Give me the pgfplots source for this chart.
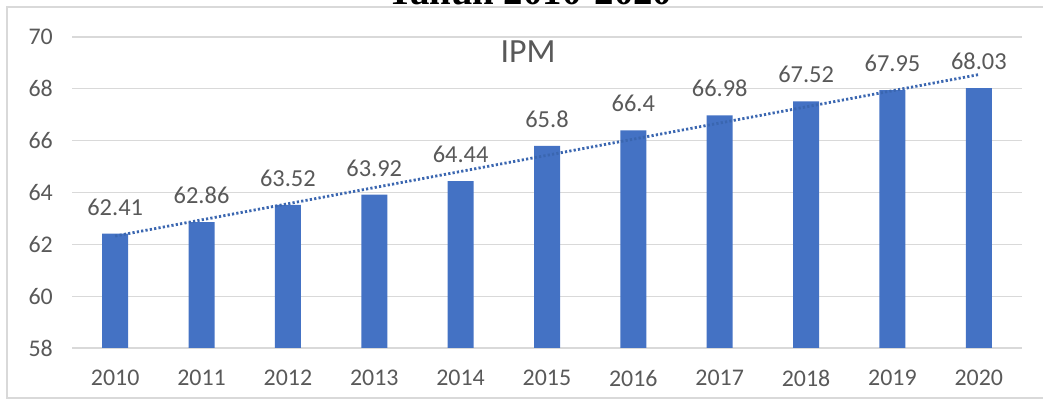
\documentclass[border=0pt]{standalone}
\usepackage{pgfplots}
\pgfplotsset{compat=1.18}
\usepackage{fontspec}
\setmainfont{Carlito}
\newfontfamily\titlefont{Liberation Serif}
\definecolor{barblue}{HTML}{4472C4}
\definecolor{trendblue}{HTML}{3A66B0}
\definecolor{txtgray}{HTML}{595959}
\definecolor{gridgray}{HTML}{D9D9D9}
\begin{document}
\begin{tikzpicture}
\begin{axis}[
  at={(72bp,55bp)}, anchor=south west,
  scale only axis, width=950bp, height=311bp,
  xmin=2009.5, xmax=2020.5, ymin=58, ymax=70,
  ytick={58,60,...,70}, xtick={2010,...,2020},
  axis line style={draw=none},
  major tick length=0pt,
  ymajorgrids, grid style={gridgray, line width=1.3bp},
  /pgf/number format/assume math mode=true,
  /pgf/number format/1000 sep={},
  ticklabel style={font=\fontsize{24}{24}\selectfont, text=txtgray},
  yticklabel style={anchor=east, inner sep=0pt, xshift=-19bp},
  xticklabel style={anchor=north, inner sep=0pt, yshift=-22bp},
  clip=true,
]
\addplot[ybar, bar width=26bp, fill=barblue, draw=none,
  nodes near coords,
  nodes near coords style={font=\fontsize{24.5}{24.5}\selectfont, text=txtgray, anchor=south, inner sep=0pt, yshift=18bp},
] coordinates {
 (2010,62.41) (2011,62.86) (2012,63.52) (2013,63.92) (2014,64.44) (2015,65.8)
 (2016,66.4) (2017,66.98) (2018,67.52) (2019,67.95) (2020,68.03)};
\addplot[sharp plot, no marks, color=trendblue, line width=2.8bp, dash pattern=on 2.2bp off 2.2bp]
 coordinates {(2010,62.32) (2020,68.55)};
\end{axis}
\node[font=\fontsize{34}{34}\selectfont, text=txtgray] at (528bp,351bp) {IPM};
\node[font=\titlefont\bfseries\fontsize{39}{39}\selectfont, anchor=base] at (530bp,398bp) {Tahun 2010-2020};
\draw[gridgray, line width=2bp] (1043bp,396bp) -- (7bp,396bp) -- (7bp,5bp) -- (1043bp,5bp);
\pgfresetboundingbox
\path[use as bounding box] (0bp,0bp) rectangle (1043bp,403bp);
\end{tikzpicture}
\end{document}
